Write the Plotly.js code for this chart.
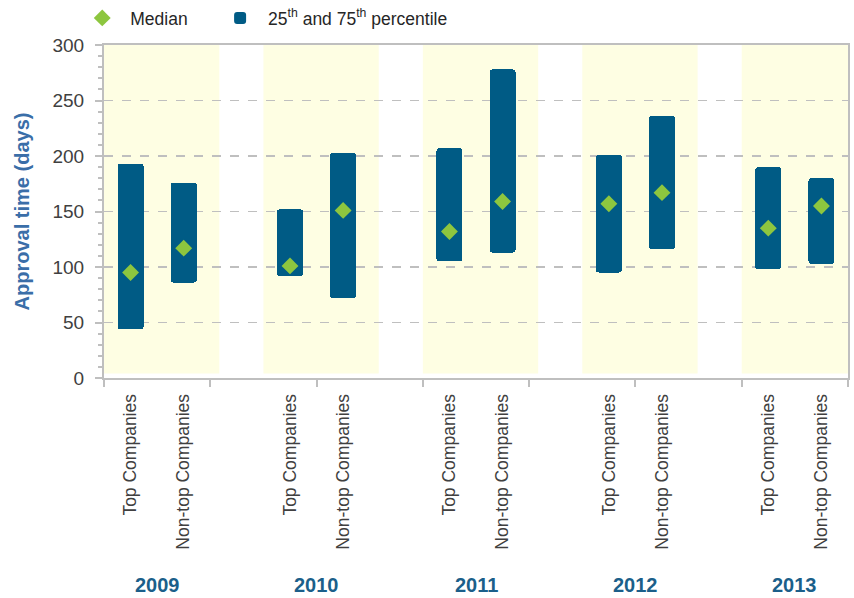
<!DOCTYPE html>
<html>
<head>
<meta charset="utf-8">
<script src="https://cdn.plot.ly/plotly-3.0.1.min.js"></script>
<style>
  html, body { margin: 0; padding: 0; background: #ffffff; }
  #chart { width: 854px; height: 598px; }
</style>
</head>
<body>
<div id="chart"></div>
<script>
// ---- data ----
var years = ["2009", "2010", "2011", "2012", "2013"];
var groups = ["Top Companies", "Non-top Companies"];
// slot index of each bar on the x axis (two bars per year, one empty slot between years)
var slots = [0, 1, 3, 4, 6, 7, 9, 10, 12, 13];
var labels = ["Top Companies", "Non-top Companies", "Top Companies", "Non-top Companies",
              "Top Companies", "Non-top Companies", "Top Companies", "Non-top Companies",
              "Top Companies", "Non-top Companies"];
var p25 = [44, 86, 92, 72, 105, 113, 95, 116, 98, 103];
var p75 = [193, 176, 152, 203, 207, 278, 201, 236, 190, 180];
var median = [95, 117, 101, 151, 132, 159, 157, 167, 135, 155];
var yearStartSlot = [0, 3, 6, 9, 12];

var FONT = "Liberation Sans, Arial, sans-serif";
var BAR = "#005b85";
var GREEN = "#8dc63f";
var GRID = "#bfbfbf";

var spans = p75.map(function (v, i) { return v - p25[i]; });
var yearCenters = yearStartSlot.map(function (s) { return s + 0.5; });

var traces = [
  {
    type: "bar", name: "25<sup>th</sup> and 75<sup>th</sup> percentile",
    x: slots, y: spans, base: p25, width: 0.49,
    marker: { color: BAR, cornerradius: 3, line: { width: 0 } },
    hoverinfo: "skip", legendrank: 2
  },
  {
    type: "scatter", mode: "markers", name: "Median\u00a0\u00a0\u00a0\u00a0",
    x: slots, y: median,
    marker: { symbol: "diamond", size: 13, color: GREEN },
    hoverinfo: "y", legendrank: 1
  }
];

var shapes = yearStartSlot.map(function (s) {
  return {
    type: "rect", xref: "x", yref: "y", layer: "below",
    x0: s - 0.5, x1: s - 0.5 + 2.17, y0: 4, y1: 300,
    fillcolor: "#fefee3", line: { width: 0 }
  };
});

var annotations = years.map(function (yr, i) {
  return {
    text: "<b>" + yr + "</b>", xref: "x", yref: "paper",
    x: yearCenters[i], y: -0.621, xanchor: "center", yanchor: "middle",
    showarrow: false,
    font: { family: FONT, size: 20, color: "#1b5f8a" }
  };
});

var layout = {
  width: 854, height: 598,
  margin: { l: 104, r: 6, t: 45, b: 220 },
  paper_bgcolor: "#ffffff", plot_bgcolor: "rgba(0,0,0,0)",
  font: { family: FONT, color: "#404040" },
  showlegend: true,
  legend: {
    orientation: "h", x: -0.04, y: 1.0, xanchor: "left", yanchor: "top",
    yref: "container",
    bgcolor: "rgba(0,0,0,0)",
    font: { family: FONT, size: 17.5, color: "#262626" },
    itemwidth: 46
  },
  bargap: 0,
  xaxis: {
    range: [-0.5, 13.5], tickmode: "array", tickvals: slots, ticktext: labels,
    tickangle: -90, ticks: "", ticklabelstandoff: 7,
    tickfont: { family: FONT, size: 17.5, color: "#404040" },
    showgrid: false, zeroline: false,
    showline: true, linecolor: GRID, linewidth: 2, mirror: true,
    minor: { tick0: -0.5, dtick: 2, ticks: "outside", ticklen: 7, tickcolor: GRID, tickwidth: 2, showgrid: false },
    fixedrange: true
  },
  yaxis: {
    range: [0, 300], dtick: 50, tick0: 0,
    ticks: "outside", ticklen: 7, tickcolor: GRID, tickwidth: 2,
    tickfont: { family: FONT, size: 19, color: "#404040" },
    ticklabelstandoff: 7,
    showgrid: true, gridcolor: GRID, gridwidth: 1.5, griddash: "dash",
    zeroline: false,
    showline: true, linecolor: GRID, linewidth: 2, mirror: true,
    minor: { dtick: 10, ticks: "outside", ticklen: 4, tickcolor: GRID, tickwidth: 2, showgrid: false },
    title: { text: "<b>Approval time (days)</b>", standoff: 17,
             font: { family: FONT, size: 20, color: "#3a6ea8" } },
    fixedrange: true
  },
  shapes: shapes,
  annotations: annotations
};

Plotly.newPlot("chart", traces, layout, { displayModeBar: false, staticPlot: true });
</script>
</body>
</html>
